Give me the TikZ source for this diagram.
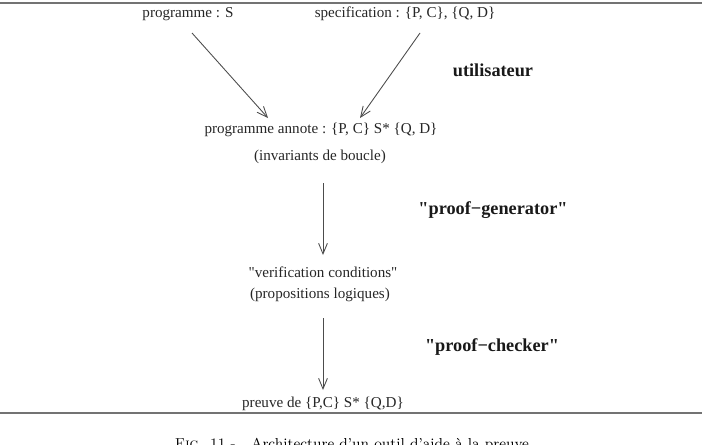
\documentclass[tikz,border=0pt]{standalone}
\usepackage{fontspec}
\usepackage{tikz}
\usetikzlibrary{arrows.meta, calc}
\newfontfamily\timesfont{Liberation Serif}

\begin{document}
\begin{tikzpicture}[
    x=0.02cm, y=-0.02cm,
    txt/.style={font=\timesfont\fontsize{8.6}{10}\selectfont, inner sep=0pt, text=black!85},
    role/.style={font=\timesfont\bfseries\fontsize{10.4}{12}\selectfont, inner sep=0pt, text=black!90},
    arr/.style={-{Straight Barb[length=6pt, width=5pt]}, line width=0.5pt, draw=black!70},
    rule/.style={line width=1pt, draw=black!55},
    figcap/.style={font=\fontsize{8.2}{10}\selectfont, inner sep=0pt, anchor=base},
]
\useasboundingbox (0,0) rectangle (702,444);

% --- rules ---
\draw[rule] (0,3) -- (702,3);
\draw[rule] (0,413) -- (702,413);

% --- inputs (top) ---
\node[txt] (prog) at (188,14) {programme : S};
\node[txt] (spec) at (405,14) {specification : \{P, C\}, \{Q, D\}};
\node[role] (user) at (493,70) {utilisateur};

% --- annotated program ---
\node[txt] (annote) at (321,130) {programme annote : \{P, C\} S* \{Q, D\}};
\node[txt] (inv)    at (320,157) {(invariants de boucle)};
\node[role] (pgen)  at (493,210) {"proof−generator"};

% --- verification conditions ---
\node[txt] (vc) at (323,272) {"verification conditions"};
\node[txt] (pl) at (320,295) {(propositions logiques)};
\node[role] (pchk) at (492,347) {"proof−checker"};

% --- proof (bottom) ---
\node[txt] (preuve) at (323,404) {preuve de \{P,C\} S* \{Q,D\}};

% --- caption (cut by the page edge) ---
\node[figcap] (fig) at (352,448) {\textsc{Fig.} 11 - \ \ Architecture d'un outil d'aide \`a la preuve};

% --- arrows ---
\draw[arr] ([shift={(4,19)}]prog.center)  -- ([shift={(-53,-12)}]annote.center);
\draw[arr] ([shift={(15,19)}]spec.center) -- ([shift={(39,-12)}]annote.center);
\draw[arr] ([shift={(3,26)}]inv.center)   -- ([shift={(0,-17)}]vc.center);
\draw[arr] ([shift={(3,23)}]pl.center)    -- ([shift={(0,-14)}]preuve.center);
\end{tikzpicture}
\end{document}
